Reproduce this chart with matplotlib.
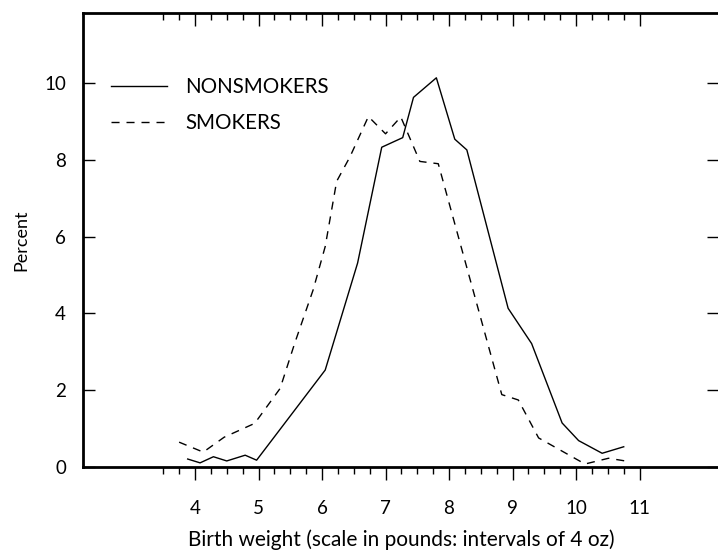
import numpy as np
from matplotlib import pyplot
from matplotlib.ticker import FixedLocator

# birth weight (pounds) vs percent of births
nonsmoker_weight = [3.885, 4.08, 4.29, 4.50, 4.79, 4.97, 6.05, 6.56, 6.94, 7.27,
                    7.44, 7.80, 8.09, 8.28, 8.93, 9.30, 9.78, 10.04, 10.41, 10.75]
nonsmoker_pct = [0.20, 0.10, 0.26, 0.15, 0.30, 0.17, 2.52, 5.31, 8.33, 8.58,
                 9.63, 10.14, 8.54, 8.26, 4.13, 3.21, 1.14, 0.68, 0.35, 0.52]

smoker_weight = [3.75, 4.13, 4.46, 4.94, 5.34, 5.57, 5.86, 6.05, 6.23, 6.44, 6.73,
                 7.00, 7.24, 7.54, 7.83, 8.83, 9.09, 9.41, 10.14, 10.51, 10.85]
smoker_pct = [0.64, 0.38, 0.77, 1.13, 2.04, 3.22, 4.61, 5.74, 7.44, 8.08, 9.13,
              8.68, 9.12, 7.96, 7.90, 1.88, 1.74, 0.75, 0.07, 0.22, 0.13]

x_major = [4, 5, 6, 7, 8, 9, 10, 11]
x_minor = [v for v in np.arange(3.5, 11.01, 0.25) if v % 1 != 0]
y_major = [0, 2, 4, 6, 8, 10]

pyplot.rcParams['font.family'] = ['Lato', 'DejaVu Sans']

fig = pyplot.figure(figsize=(7.18, 5.53), dpi=100)
ax = fig.add_axes([82.7 / 718, 86.3 / 553, (719 - 82.7) / 718, (466.7 - 13) / 553])

ax.plot(nonsmoker_weight, nonsmoker_pct, color='black', linewidth=1.0, label='NONSMOKERS')
ax.plot(smoker_weight, smoker_pct, color='black', linewidth=1.0,
        linestyle=(0, (5.8, 5.0)), label='SMOKERS')

ax.set_xlim(2.232, 12.25)
ax.set_ylim(0, 11.83)

ax.xaxis.set_major_locator(FixedLocator(x_major))
ax.xaxis.set_minor_locator(FixedLocator(x_minor))
ax.yaxis.set_major_locator(FixedLocator(y_major))
ax.set_xticklabels([str(v) for v in x_major])

ax.tick_params(axis='x', which='both', bottom=True, top=True, direction='out',
               labelsize=13.5, width=1.0, pad=14.5)
ax.tick_params(axis='x', which='major', length=9.4)
ax.tick_params(axis='x', which='minor', length=5.0)
ax.tick_params(axis='y', which='major', left=True, right=True, direction='in',
               length=8.6, width=1.0, labelsize=13.5, pad=12)
# top ticks point inwards while bottom ones point outwards
for t in ax.xaxis.get_major_ticks() + ax.xaxis.get_minor_ticks():
    t.tick2line.set_marker(3)

for side in ['left', 'top', 'bottom']:
    ax.spines[side].set_linewidth(2.0)
ax.spines['right'].set_visible(False)

ax.set_xlabel('Birth weight (scale in pounds: intervals of 4 oz)', fontsize=15, labelpad=9)
ax.set_ylabel('Percent', fontsize=13, labelpad=11)

ax.legend(loc='upper left', bbox_to_anchor=(110.7 / 718, 1 - 77 / 553),
          bbox_transform=fig.transFigure, frameon=False, fontsize=14.8,
          handlelength=2.74, handletextpad=0.88, labelspacing=0.8,
          borderpad=0, borderaxespad=0)

fig.savefig('out.png', dpi=100)
